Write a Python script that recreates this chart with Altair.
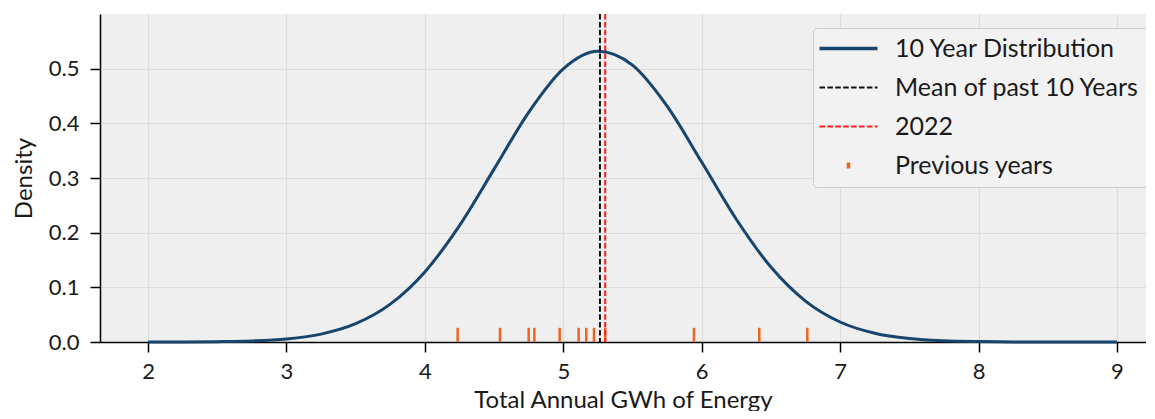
import altair as alt
import pandas as pd

# ---- data ----
curve_x = [2.0, 2.25, 2.5, 2.75, 3.0, 3.25, 3.5, 3.75, 4.0, 4.25, 4.5, 4.75,
           5.0, 5.25, 5.5, 5.75, 6.0, 6.25, 6.5, 6.75, 7.0, 7.25, 7.5, 7.75,
           8.0, 8.25, 8.5, 8.75, 9.0]
curve_y = [0.00004, 0.00016, 0.0006, 0.0019, 0.0056, 0.0144, 0.0334, 0.0692,
           0.1282, 0.2129, 0.3162, 0.4201, 0.4997, 0.5318, 0.5064, 0.4315,
           0.3291, 0.2246, 0.1371, 0.0749, 0.0366, 0.0160, 0.0063, 0.0022,
           0.0007, 0.0002, 0.00005, 0.00001, 0.0]
mean_value = [5.265]
value_2022 = [5.303]
previous_years = [4.237, 4.543, 4.750, 4.791, 4.974, 5.111, 5.166, 5.222,
                  5.303, 5.944, 6.416, 6.763]
rug_height = 0.026

series_names = ["10 Year Distribution", "Mean of past 10 Years", "2022", "Previous years"]
series_colors = ["#17456e", "#111111", "#ff1a1a", "#f0651e"]
x_ticks = [2, 3, 4, 5, 6, 7, 8, 9]
y_ticks = [0.0, 0.1, 0.2, 0.3, 0.4, 0.5]

curve_df = pd.DataFrame({"x": curve_x, "y": curve_y, "series": series_names[0]})
mean_df = pd.DataFrame({"x": mean_value, "series": series_names[1]})
y22_df = pd.DataFrame({"x": value_2022, "series": series_names[2]})
rug_df = pd.DataFrame({"x": previous_years, "y": 0.0, "y2": rug_height,
                       "series": series_names[3]})

FONT = "Lato"

x_scale = alt.Scale(domain=[1.653, 9.21], nice=False, zero=False)
y_scale = alt.Scale(domain=[0, 0.6], nice=False)

legend = alt.Legend(
    title=None, orient="none", legendX=713, legendY=14,
    symbolType={"expr": "datum.value === 'Previous years' ? 'M0,-0.1L0,0.1' : 'stroke'"},
    symbolDash={"expr": "(datum.value === 'Mean of past 10 Years' || datum.value === '2022') ? [5.5, 2.4] : [1, 0]"},
    symbolStrokeWidth={"expr": "(datum.value === 'Mean of past 10 Years' || datum.value === '2022') ? 2 : 3.5"},
    symbolSize=3364, symbolOffset=15,
    labelFont=FONT, labelFontSize=25, labelColor="#1a1a1a", labelOffset=34,
    labelLimit=600,
    padding=8, rowPadding=13,
    fillColor="#f2f2f2", strokeColor="#cccccc", cornerRadius=4,
)

color = alt.Color("series:N", scale=alt.Scale(domain=series_names, range=series_colors),
                  legend=legend)

x_axis = alt.Axis(values=x_ticks, format="d", title="Total Annual GWh of Energy",
                  labelPadding=9, titlePadding=6)
y_axis = alt.Axis(values=y_ticks, format=".1f", title="Density",
                  labelPadding=11, titlePadding=12)

curve = alt.Chart(curve_df).mark_line(strokeWidth=3, interpolate="monotone").encode(
    x=alt.X("x:Q", scale=x_scale, axis=x_axis),
    y=alt.Y("y:Q", scale=y_scale, axis=y_axis),
    color=color,
)

mean_rule = alt.Chart(mean_df).mark_rule(strokeWidth=2, strokeDash=[5.5, 2.4]).encode(
    x=alt.X("x:Q", scale=x_scale), color=color)

rule_2022 = alt.Chart(y22_df).mark_rule(strokeWidth=2, strokeDash=[5.5, 2.4]).encode(
    x=alt.X("x:Q", scale=x_scale), color=color)

rug = alt.Chart(rug_df).mark_rule(strokeWidth=2.5).encode(
    x=alt.X("x:Q", scale=x_scale),
    y=alt.Y("y:Q", scale=y_scale),
    y2="y2:Q",
    color=color,
)

chart = alt.layer(curve, rug, mean_rule, rule_2022).properties(
    width=1046, height=328,
    autosize=alt.AutoSizeParams(type="none"),
    padding={"left": 92, "top": 6, "right": 0, "bottom": 69},
    background="white",
).configure_view(
    fill="#efefef", strokeWidth=0,
).configure_axis(
    domainColor="black", domainWidth=1.5, tickColor="black", tickWidth=1.5,
    tickSize=10, grid=True, gridColor="#dcdcdc", gridWidth=1.2,
    labelFont=FONT, labelFontSize=22, labelColor="#1a1a1a",
    titleFont=FONT, titleFontSize=24, titleFontWeight="normal", titleColor="#1a1a1a",
)

chart.save("out.html", embed_options={"renderer": "svg", "actions": False})
